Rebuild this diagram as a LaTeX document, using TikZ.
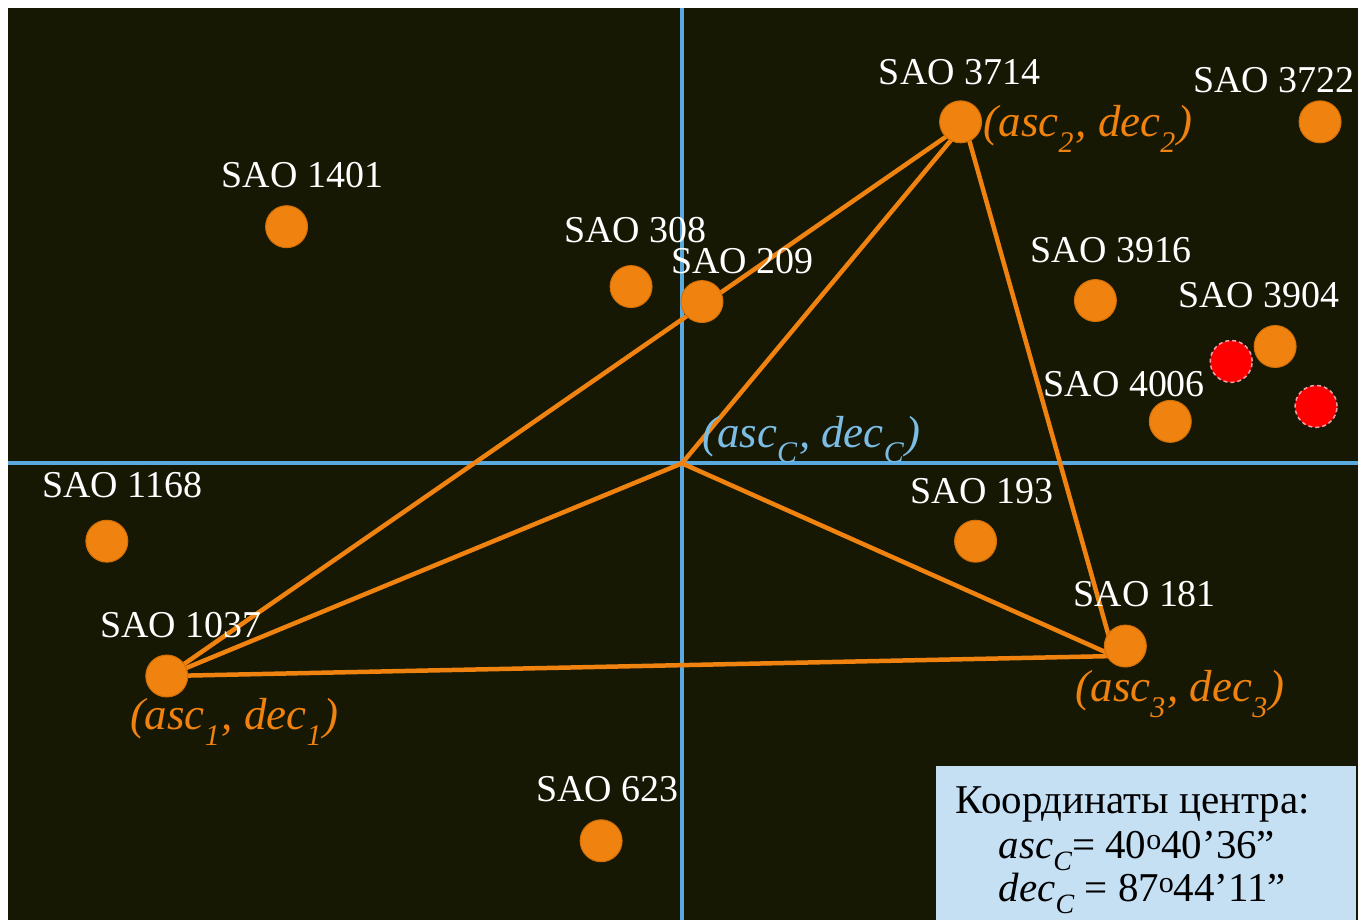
\documentclass[tikz,border=0pt]{standalone}
\usepackage{fontspec}
\setmainfont{Liberation Serif}
\definecolor{bgdark}{HTML}{161804}
\definecolor{starorange}{HTML}{F0820F}
\definecolor{stardark}{HTML}{D27008}
\definecolor{axisblue}{HTML}{5AAADF}
\definecolor{labelblue}{HTML}{7CBDE6}
\definecolor{redborder}{HTML}{F0A0A8}
\definecolor{boxblue}{HTML}{C5E0F3}
\newcommand{\lowsub}[1]{\raisebox{-0.75ex}{\fontsize{30}{32}\selectfont #1}\kern2pt}
\newcommand{\boxsub}[1]{\raisebox{-0.65ex}{\fontsize{28}{30}\selectfont #1}}
\newcommand{\degmark}{\raisebox{0.5ex}{\fontsize{30}{32}\selectfont o}}
\begin{document}
\begin{tikzpicture}[x=1pt,y=-1pt,
  star/.style={circle,fill=starorange,draw=stardark,line width=1pt,minimum size=42pt,inner sep=0pt},
  redstar/.style={circle,fill=red,draw=redborder,dashed,dash pattern=on 4pt off 3pt,line width=1.5pt,minimum size=42pt,inner sep=0pt},
  sao/.style={anchor=base west,text=white,font=\fontsize{38}{42}\selectfont,inner sep=0pt},
  coordlabel/.style={anchor=base west,font=\fontsize{45}{48}\selectfont\itshape,inner sep=0pt},
  axisline/.style={draw=axisblue,line width=4pt},
  triline/.style={draw=starorange,line width=4.5pt},
  boxtext/.style={anchor=base west,text=black,font=\fontsize{41}{44}\selectfont,inner sep=0pt}]
% canvas
\path[fill=white] (0,0) rectangle (1360,923);
\path[fill=bgdark] (8,8) rectangle (1360,921);
% axes
\coordinate (axtop) at (683,8);
\coordinate (axbot) at (683,921);
\coordinate (axleft) at (8,464);
\coordinate (axright) at (1360,464);
\coordinate (ctr) at (683,464);
\draw[axisline] (axtop) -- (axbot);
\draw[axisline] (axleft) -- (axright);
% triangle vertices
\coordinate (v1) at (167,677);
\coordinate (v2) at (966,124);
\coordinate (v3) at (1116,657);
\draw[triline,line join=round] (v1) -- (v2) -- (v3) -- cycle;
\draw[triline] (ctr) -- (v1);
\draw[triline] (ctr) -- (v2);
\draw[triline] (ctr) -- (v3);
% stars
\node[star] (s3714) at (962,122) {};
\node[star] (s3722) at (1322,122) {};
\node[star] (s1401) at (287,227) {};
\node[star] (s308) at (632,287) {};
\node[star] (s209) at (703,302) {};
\node[star] (s3916) at (1097,301) {};
\node[star] (s3904) at (1277,347) {};
\node[redstar] (r1) at (1233,362) {};
\node[redstar] (r2) at (1318,407) {};
\node[star] (s4006) at (1172,422) {};
\node[star] (s1168) at (107,542) {};
\node[star] (s193) at (977,542) {};
\node[star] (s1037) at (167,677) {};
\node[star] (s181) at (1127,647) {};
\node[star] (s623) at (602,842) {};
% star labels
\node[sao] (l3714) at (880,85) {SAO 3714};
\node[sao] (l3722) at (1195,93) {SAO 3722};
\node[sao] (l1401) at (222,188) {SAO 1401};
\node[sao] (l308) at (565,243) {SAO 308};
\node[sao] (l209) at (672,274) {SAO 209};
\node[sao] (l3916) at (1032,263) {SAO 3916};
\node[sao] (l3904) at (1180,308) {SAO 3904};
\node[sao] (l4006) at (1045,397) {SAO 4006};
\node[sao] (l1168) at (42,498) {SAO 1168};
\node[sao] (l193) at (912,504) {SAO 193};
\node[sao] (l1037) at (100,638) {SAO 1037};
\node[sao] (l181) at (1075,607) {SAO 181};
\node[sao] (l623) at (537,803) {SAO 623};
% coordinate labels
\node[coordlabel,text=starorange] (c2) at (985,137) {(asc\lowsub{2}, dec\lowsub{2})};
\node[coordlabel,text=labelblue] (cc) at (703,448) {(asc\lowsub{C}, dec\lowsub{C})};
\node[coordlabel,text=starorange] (c1) at (130,731) {(asc\lowsub{1}, dec\lowsub{1})};
\node[coordlabel,text=starorange] (c3) at (1077,703) {(asc\lowsub{3}, dec\lowsub{3})};
% info box
\path[fill=boxblue] (937,767) rectangle (1358,921);
\node[boxtext] (b1) at (957,815) {Координаты центра:};
\node[boxtext] (b2) at (1000,860) {\textit{asc}\boxsub{\textit{C}}= 40\degmark40’36”};
\node[boxtext] (b3) at (1000,903) {\textit{dec}\boxsub{\textit{C}} = 87\degmark44’11”};
\end{tikzpicture}
\end{document}
